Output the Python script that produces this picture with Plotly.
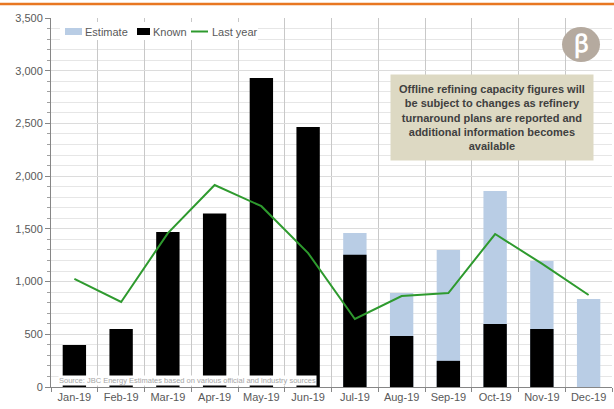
import plotly.graph_objects as go

months = ["Jan-19", "Feb-19", "Mar-19", "Apr-19", "May-19", "Jun-19",
          "Jul-19", "Aug-19", "Sep-19", "Oct-19", "Nov-19", "Dec-19"]
estimate_total = [None, None, None, None, None, None, 1460, 892, 1300, 1859, 1195, 835]
known = [398, 550, 1470, 1645, 2930, 2466, 1255, 484, 248, 598, 550, 0]
last_year = [1025, 806, 1460, 1916, 1715, 1270, 645, 863, 891, 1451, 1170, 873]

FONT = "Liberation Sans Narrow, Liberation Sans, Arial"
GRAY = "#595959"
EST_C, KNOWN_C, LY_C = "#b9cde5", "#000000", "#2e9a2e"

fig = go.Figure()
fig.add_trace(go.Bar(x=months, y=estimate_total, name="Estimate",
                     marker=dict(color=EST_C, line=dict(width=0))))
fig.add_trace(go.Bar(x=months, y=known, name="Known",
                     marker=dict(color=KNOWN_C, line=dict(width=0))))
fig.add_trace(go.Scatter(x=months, y=last_year, name="Last year", mode="lines",
                         line=dict(color=LY_C, width=2)))


def px(x):
    return (x - 51) / 561


def py(y):
    return (387 - y) / 369


shapes = [
    dict(type="line", xref="paper", yref="paper", x0=-0.2, x1=1.1,
         y0=py(4), y1=py(4), line=dict(color="#e87722", width=2.5)),
    dict(type="circle", xref="paper", yref="paper",
         x0=px(562), x1=px(600), y0=py(62), y1=py(27),
         fillcolor="#b5aa9f", line=dict(width=0)),
    # custom legend background + keys
    dict(type="rect", xref="paper", yref="paper", x0=px(60), x1=px(258),
         y0=py(40), y1=py(22), fillcolor="white", line=dict(width=0), layer="above"),
    dict(type="rect", xref="paper", yref="paper", x0=px(65), x1=px(82),
         y0=py(35), y1=py(28), fillcolor=EST_C, line=dict(width=0), layer="above"),
    dict(type="rect", xref="paper", yref="paper", x0=px(137), x1=px(150),
         y0=py(35), y1=py(28), fillcolor=KNOWN_C, line=dict(width=0), layer="above"),
    dict(type="line", xref="paper", yref="paper", x0=px(191), x1=px(208),
         y0=py(31.5), y1=py(31.5), line=dict(color=LY_C, width=2), layer="above"),
]

legend_labels = [("Estimate", 83), ("Known", 151), ("Last year", 210)]
annotations = [
    dict(xref="paper", yref="paper", x=px(lx), y=py(31.5), text=t, showarrow=False,
         xanchor="left", yanchor="middle",
         font=dict(family=FONT, size=11, color=GRAY))
    for t, lx in legend_labels
]
annotations += [
    dict(xref="paper", yref="paper", x=px(492), y=py(117),
         text="<b>Offline refining capacity figures will<br>be subject to changes as refinery<br>"
              "turnaround plans are reported and<br>additional information becomes<br>available</b>",
         showarrow=False, align="center", bgcolor="#ddd9c3",
         font=dict(family=FONT, size=11, color="#404040"),
         borderpad=8, xanchor="center", yanchor="middle"),
    dict(xref="paper", yref="paper", x=px(58), y=py(380),
         text="Source: JBC Energy Estimates based on various official and industry sources",
         showarrow=False, xanchor="left", yanchor="middle", bgcolor="white",
         font=dict(family=FONT, size=7.5, color="#a6a6a6"), borderpad=0),
    dict(xref="paper", yref="paper", x=px(581), y=py(44),
         text="<b>ꞵ</b>", showarrow=False, xanchor="center", yanchor="middle",
         font=dict(family="DejaVu Serif", size=24, color="white")),
]

fig.update_layout(
    width=614, height=409,
    margin=dict(l=51, r=2, t=18, b=22),
    barmode="overlay", bargap=0.5,
    paper_bgcolor="white", plot_bgcolor="white",
    font=dict(family=FONT, size=11, color=GRAY),
    showlegend=False,
    xaxis=dict(type="category", tickson="boundaries", showgrid=True,
               gridcolor="#c8c8c8", gridwidth=1, showline=True, linecolor="#868686",
               ticks="outside", ticklen=4, tickcolor="#868686",
               tickfont=dict(family=FONT, size=11, color=GRAY), fixedrange=True),
    yaxis=dict(range=[0, 3500], dtick=500, tickformat=",", showgrid=True,
               gridcolor="#dcdcdc", showline=True, linecolor="#868686",
               ticks="outside", ticklen=5, tickcolor="#868686", zeroline=False,
               minor=dict(dtick=100, showgrid=True, gridcolor="#e6e6e6",
                          ticks="outside", ticklen=3, tickcolor="#a0a0a0"),
               tickfont=dict(family=FONT, size=11, color=GRAY)),
    shapes=shapes,
    annotations=annotations,
)

fig.write_html("out.html")
